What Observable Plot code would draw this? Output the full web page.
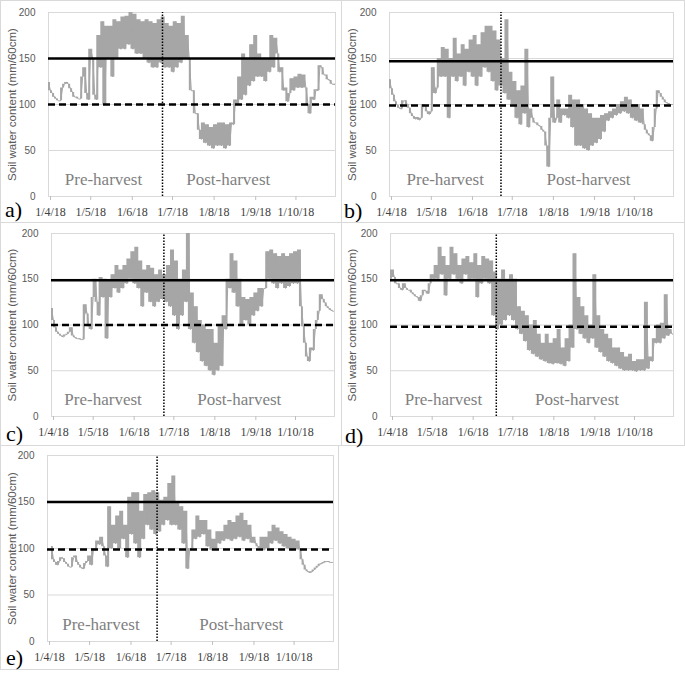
<!DOCTYPE html>
<html><head><meta charset="utf-8">
<script src="https://cdn.jsdelivr.net/npm/d3@7"></script>
<script src="https://cdn.jsdelivr.net/npm/@observablehq/plot@0.6"></script>
<style>
body{margin:0;background:#fff;}
#fig{position:relative;width:685px;height:673px;overflow:hidden;background:#fff;}
.panel{position:absolute;outline:1px solid #d9d9d9;outline-offset:-1px;}
.panel svg{position:absolute;left:0;top:0;}
.tag{position:absolute;font-family:"Liberation Serif",serif;font-size:22px;line-height:22px;color:#000;}
</style></head><body><div id="fig"></div><script>
// ---- data (soil water content, mm/60cm), two readings per 3-day bin starting 1 Apr 2018 ----
const monthTicks = ["2018-04-01","2018-05-01","2018-06-01","2018-07-01","2018-08-01","2018-09-01","2018-10-01"];
const monthLabels = ["1/4/18","1/5/18","1/6/18","1/7/18","1/8/18","1/9/18","1/10/18"];
const yTicks = [0, 50, 100, 150, 200];
const panelTags = ["a)", "b)", "c)", "d)", "e)"];
const harvestDates = ["2018-06-25", "2018-06-24", "2018-06-25", "2018-06-20", "2018-06-22"];
const upperLimits = [150, 147, 149, 149, 150];
const lowerLimits = [100, 99, 100, 98, 99];

const aFirst  = [124,112,106,104,122,122,113,108,106,140,105,150,105,140,100,150,130,150,160,160,165,160,155,155,150,145,140,140,145,140,140,135,140,145,150,150,115,90,62,58,55,52,55,55,52,55,78,100,105,110,120,125,130,130,125,135,140,155,140,118,112,115,118,118,118,90,105,115,140,132,126,122];
const aSecond = [115,108,104,118,124,117,108,106,130,112,160,110,175,190,185,185,192,190,195,196,200,198,192,190,192,190,188,192,195,188,185,190,188,196,175,115,90,72,80,78,75,78,80,80,78,80,105,130,155,150,165,175,155,150,150,175,172,135,115,103,128,130,133,132,100,108,116,142,132,127,122,121];

const bFirst  = [127,110,99,95,104,96,87,86,85,98,89,140,118,130,130,85,130,125,130,120,135,130,120,130,140,135,125,115,120,112,105,100,85,78,90,75,85,80,76,70,32,130,85,80,88,85,75,55,55,52,50,55,58,62,70,82,85,88,90,92,90,85,82,80,78,68,60,95,112,105,101,100];
const bSecond = [117,103,96,104,100,90,84,83,100,92,92,112,150,162,160,150,172,155,165,160,170,175,165,178,185,185,180,170,150,192,135,125,115,120,160,95,80,77,72,55,85,80,105,95,95,110,105,105,100,95,90,85,85,88,90,92,95,100,103,108,105,100,100,95,72,66,75,115,108,102,100,100];

const cFirst  = [118,97,90,87,90,97,86,85,84,112,95,150,110,130,85,130,140,135,140,145,150,145,140,120,135,125,120,125,128,125,120,110,95,110,125,95,80,70,60,55,50,45,50,55,95,140,135,120,100,105,100,110,115,120,140,150,145,140,145,140,142,145,145,120,80,60,72,105,133,124,118,115];
const cSecond = [105,92,88,89,92,88,85,84,122,98,130,125,152,150,148,155,165,160,165,172,180,185,170,160,165,162,155,160,155,165,182,170,150,160,200,135,120,105,100,95,95,80,100,110,150,178,170,150,130,128,130,135,140,140,180,182,178,175,178,175,178,180,182,98,65,75,95,115,128,120,116,115];

const dFirst  = [150,152,145,138,140,138,133,130,132,137,145,150,150,155,132,150,155,150,145,155,148,150,130,145,150,145,110,95,100,105,110,105,95,90,82,72,68,65,62,60,58,57,58,57,55,60,75,95,90,85,80,85,75,70,65,60,58,55,52,50,50,50,49,50,50,52,60,80,80,85,88,90];
const dSecond = [160,145,140,145,138,135,131,126,138,134,155,165,185,175,165,185,178,165,172,175,168,178,165,175,172,170,158,150,160,150,155,150,120,115,110,100,105,90,80,90,80,85,95,75,85,100,178,130,120,110,100,155,110,95,90,85,75,75,70,65,68,60,62,62,125,65,85,100,102,133,95,90];

const eFirst  = [null,102,85,86,89,83,80,92,82,78,86,82,98,104,102,80,100,105,100,110,90,115,105,90,110,125,120,115,118,125,130,125,125,120,105,78,100,110,112,115,102,98,100,105,108,110,108,110,112,108,110,106,105,100,98,100,105,108,105,102,100,98,99,98,82,75,75,79,83,85,86,85];
const eSecond = [null,88,82,90,85,80,90,85,79,84,92,100,108,112,92,145,125,135,140,125,155,160,160,140,158,160,162,160,152,155,170,178,150,145,140,100,120,135,130,130,120,110,118,118,125,130,128,135,138,130,125,112,102,112,112,118,125,122,118,115,112,110,108,88,77,74,77,81,84,86,85,85];

const firsts = [aFirst, bFirst, cFirst, dFirst, eFirst];
const seconds = [aSecond, bSecond, cSecond, dSecond, eSecond];
const preLabelDates  = ["2018-05-12", "2018-05-13", "2018-05-10", "2018-05-11", "2018-05-11"];
const postLabelDates = ["2018-08-13", "2018-08-29", "2018-08-21", "2018-08-20", "2018-08-24"];

// ---- layout ----
const layout = [
  {left:0,   top:0,   width:342, height:223, mt:12, mr:7,  mb:27, ml:48, titleX:12, tagX:5, tagBase:217},
  {left:341, top:0,   width:344, height:223, mt:12, mr:12, mb:27, ml:48, titleX:11, tagX:3, tagBase:218},
  {left:0,   top:222, width:342, height:224, mt:11, mr:8,  mb:30, ml:51, titleX:12, tagX:6, tagBase:219},
  {left:341, top:222, width:344, height:224, mt:11, mr:12, mb:30, ml:49, titleX:11, tagX:4, tagBase:221},
  {left:0,   top:445, width:339, height:225, mt:10, mr:6,  mb:29, ml:47, titleX:12, tagX:6, tagBase:220}
];

const parse = d3.timeParse("%Y-%m-%d");
const start = parse("2018-04-01");
const end = parse("2018-11-01");
const DAY = 864e5;
const tickDates = monthTicks.map(parse);
const labelByTime = new Map(tickDates.map((d, i) => [+d, monthLabels[i]]));

function rowsFor(first, second) {
  const rows = [];
  first.forEach((v, i) => {
    rows.push({date: new Date(+start + i * 3 * DAY), value: v});
    rows.push({date: new Date(+start + (i * 3 + 1.5) * DAY), value: second[i]});
  });
  return rows;
}
// bounding band of each consecutive pair of readings (segment extent)
function bandFor(rows) {
  return rows.map((r, j) => {
    const n = rows[j + 1] || r;
    const ok = r.value != null && n.value != null;
    return {date: r.date, lo: ok ? Math.min(r.value, n.value) : null, hi: ok ? Math.max(r.value, n.value) : null};
  });
}

const fig = document.getElementById("fig");
layout.forEach((L, k) => {
  const rows = rowsFor(firsts[k], seconds[k]);
  const band = bandFor(rows);
  const chart = Plot.plot({
    width: L.width, height: L.height,
    marginTop: L.mt, marginRight: L.mr, marginBottom: L.mb, marginLeft: L.ml,
    style: {background: "transparent", overflow: "visible"},
    x: {type: "time", domain: [start, end], label: null},
    y: {domain: [0, 200], label: null},
    marks: [
      Plot.gridY([50, 100, 150], {stroke: "#d9d9d9", strokeOpacity: 1}),
      Plot.frame({stroke: "#d9d9d9"}),
      Plot.areaY(band, {x: "date", y1: "lo", y2: "hi", curve: "step-after", fill: "#a6a6a6", clip: true}),
      Plot.line(rows, {x: "date", y: "value", stroke: "#a6a6a6", strokeWidth: 1, clip: true}),
      Plot.ruleY([upperLimits[k]], {stroke: "#000", strokeWidth: 2.5}),
      Plot.ruleY([lowerLimits[k]], {stroke: "#000", strokeWidth: 2.5, strokeDasharray: "7,4"}),
      Plot.ruleX([parse(harvestDates[k])], {y1: 0, y2: 200, stroke: "#000", strokeWidth: 1.5, strokeDasharray: "1.5,1.5"}),
      Plot.text([{d: parse(preLabelDates[k]), t: "Pre-harvest"}, {d: parse(postLabelDates[k]), t: "Post-harvest"}],
        {x: "d", y: 18, text: "t", fontFamily: "Liberation Serif", fontSize: 17, fill: "#7f7f7f"}),
      Plot.axisX({ticks: tickDates, tickFormat: d => labelByTime.get(+d), tickSize: 4, tickPadding: 7, dx: 2,
        stroke: "#bfbfbf", fill: "#404040", fontFamily: "Liberation Serif", fontSize: 12, label: null}),
      Plot.axisY({ticks: yTicks, tickSize: 0, tickPadding: 13, fill: "#595959",
        fontFamily: "Liberation Sans", fontSize: 10, label: null}),
      Plot.text(["Soil water content (mm/60cm)"], {text: d => d, frameAnchor: "left", textAnchor: "middle", lineAnchor: "middle",
        rotate: -90, dx: L.titleX - L.ml, fontFamily: "Liberation Sans", fontSize: 11.5, fill: "#595959"})
    ]
  });
  const div = document.createElement("div");
  div.className = "panel";
  Object.assign(div.style, {left: L.left + "px", top: L.top + "px", width: L.width + "px", height: L.height + "px"});
  div.appendChild(chart);
  const tag = document.createElement("div");
  tag.className = "tag";
  tag.textContent = panelTags[k];
  Object.assign(tag.style, {left: L.tagX + "px", top: (L.tagBase - 18.5) + "px"});
  div.appendChild(tag);
  fig.appendChild(div);
});
</script></body></html>
